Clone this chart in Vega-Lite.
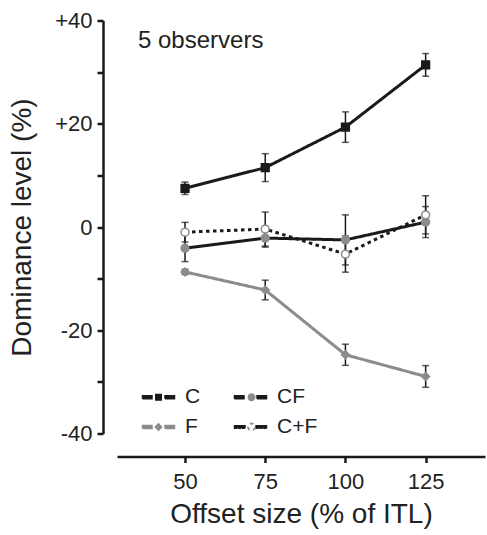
{
  "$schema": "https://vega.github.io/schema/vega-lite/v6.json",
  "autosize": {"type": "none"},
  "padding": {"left": 117, "top": 20.5, "right": 2, "bottom": 101.5},
  "width": 368,
  "height": 413,
  "background": "white",
  "config": {
    "view": {"stroke": null},
    "font": "Liberation Sans",
    "axis": {"grid": false, "labelFont": "Liberation Sans", "titleFont": "Liberation Sans", "labelColor": "#222", "titleColor": "#222", "domainColor": "#1a1a1a", "tickColor": "#1a1a1a"},
    "legend": {"orient": "none", "legendX": 31, "legendY": 366, "columns": 2, "direction": "horizontal", "columnPadding": 5, "rowPadding": 8, "gridAlign": "all", "symbolSize": 100, "symbolStrokeWidth": 1.5, "labelFontSize": 21, "labelFont": "Liberation Sans", "labelColor": "#222", "labelOffset": 16}
  },
  "title": {"text": "5 observers", "anchor": "start", "frame": "group", "orient": "top", "offset": -62, "baseline": "alphabetic", "dx": 21, "fontSize": 24, "fontWeight": "normal", "font": "Liberation Sans", "color": "#222"},
  "data": {
    "values": [
      {"offset": 50, "series": "C", "level": 7.5, "err": 1.2},
      {"offset": 75, "series": "C", "level": 11.5, "err": 2.7},
      {"offset": 100, "series": "C", "level": 19.35, "err": 2.95},
      {"offset": 125, "series": "C", "level": 31.4, "err": 2.2},
      {"offset": 50, "series": "F", "level": -8.7, "err": 0.5},
      {"offset": 75, "series": "F", "level": -12.2, "err": 1.9},
      {"offset": 100, "series": "F", "level": -24.75, "err": 2.05},
      {"offset": 125, "series": "F", "level": -28.95, "err": 2.1},
      {"offset": 50, "series": "CF", "level": -4.1, "err": 2.6},
      {"offset": 75, "series": "CF", "level": -2.15, "err": 1.75},
      {"offset": 100, "series": "CF", "level": -2.5, "err": 4.85},
      {"offset": 125, "series": "CF", "level": 0.95, "err": 3.0},
      {"offset": 50, "series": "C+F", "level": -1.0, "err": 1.9},
      {"offset": 75, "series": "C+F", "level": -0.4, "err": 3.3},
      {"offset": 100, "series": "C+F", "level": -5.25, "err": 3.5},
      {"offset": 125, "series": "C+F", "level": 2.35, "err": 3.7}
    ]
  },
  "encoding": {
    "x": {
      "field": "offset", "type": "quantitative",
      "scale": {"domain": [28.8, 143.5], "nice": false, "zero": false},
      "axis": {"offset": 23, "values": [50, 75, 100, 125], "domainWidth": 2.5, "tickWidth": 2.5, "tickSize": 6, "labelFontSize": 22, "labelPadding": 9, "title": "Offset size (% of ITL)", "titleFontSize": 28, "titleFontWeight": "normal", "titlePadding": 8}
    },
    "y": {
      "field": "level", "type": "quantitative",
      "scale": {"domain": [-40, 40], "nice": false, "zero": false},
      "axis": {"offset": 14, "values": [-40, -30, -20, -10, 0, 10, 20, 30, 40], "labelExpr": "datum.value % 20 == 0 ? (datum.value > 0 ? '+' + datum.value : '' + datum.value) : ''", "domainWidth": 2.5, "tickWidth": 2.5, "tickSize": 6, "labelFontSize": 22, "labelPadding": 5, "title": "Dominance level (%)", "titleFontSize": 28, "titleFontWeight": "normal", "titlePadding": 18}
    }
  },
  "layer": [
    {
      "mark": {"type": "line", "strokeWidth": 3},
      "encoding": {
        "color": {
          "field": "series", "type": "nominal",
          "scale": {"domain": ["C", "CF", "F", "C+F"], "range": ["#1a1a1a", "#1a1a1a", "#8c8c8c", "#1a1a1a"]},
          "legend": {
            "title": null,
            "encode": {
              "symbols": {
                "update": {
                  "shape": {"signal": "datum.value === 'C+F' ? 'M-3.2,-0.25H-2.7V0.25H-3.2Z M-2.4,-0.25H-1.9V0.25H-2.4Z M-1.6,-0.25H-1.1V0.25H-1.6Z M1.1,-0.25H1.6V0.25H1.1Z M1.9,-0.25H2.4V0.25H1.9Z M2.7,-0.25H3.2V0.25H2.7Z' : 'M-3.2,-0.3H-1.3V0.3H-3.2Z M1.3,-0.3H3.2V0.3H1.3Z'"},
                  "fill": {"signal": "datum.value === 'F' ? '#8c8c8c' : '#1a1a1a'"},
                  "stroke": {"value": "transparent"},
                  "strokeDash": {"value": [1, 0]},
                  "opacity": {"value": 1}
                }
              }
            }
          }
        },
        "strokeDash": {
          "field": "series", "type": "nominal", "sort": ["C", "CF", "F", "C+F"],
          "scale": {"range": [[1, 0], [1, 0], [1, 0], [3.5, 3.5]]},
          "legend": {
            "title": null, "labelOpacity": 0,
            "encode": {
              "symbols": {
                "update": {
                  "shape": {"signal": "'M-3.2,-0.3L-3.2,-0.3 M3.2,0.3L3.2,0.3 ' + (datum.value === 'C' ? 'M-0.7,-0.7H0.7V0.7H-0.7Z' : (datum.value === 'F' ? 'M0,-0.85L0.85,0L0,0.85L-0.85,0Z' : (datum.value === 'CF' ? 'M-0.8,0A0.8,0.8 0 1,0 0.8,0A0.8,0.8 0 1,0 -0.8,0Z' : 'M-0.7,0A0.7,0.7 0 1,0 0.7,0A0.7,0.7 0 1,0 -0.7,0Z')))"},
                  "fill": {"signal": "datum.value === 'C' ? '#1a1a1a' : (datum.value === 'C+F' ? '#ffffff' : '#8c8c8c')"},
                  "stroke": {"signal": "datum.value === 'C' ? '#1a1a1a' : '#8c8c8c'"},
                  "strokeWidth": {"signal": "datum.value === 'C+F' ? 1.8 : 0"},
                  "strokeDash": {"value": [1, 0]},
                  "opacity": {"value": 1}
                }
              }
            }
          }
        }
      }
    },
    {
      "mark": {"type": "errorbar", "ticks": {"size": 7, "thickness": 1.5, "color": "#1a1a1a"}, "rule": {"strokeWidth": 1.5, "color": "#1a1a1a"}},
      "encoding": {
        "yError": {"field": "err"},
        "detail": {"field": "series"}
      }
    },
    {
      "mark": {"type": "point", "filled": true, "strokeWidth": 1.5, "opacity": 1},
      "encoding": {
        "shape": {
          "field": "series", "type": "nominal", "sort": ["C", "CF", "F", "C+F"],
          "scale": {"range": ["square", "circle", "diamond", "circle"]},
          "legend": null
        },
        "fill": {
          "field": "series", "type": "nominal", "sort": ["C", "CF", "F", "C+F"],
          "scale": {"range": ["#1a1a1a", "#8c8c8c", "#8c8c8c", "#ffffff"]},
          "legend": null
        },
        "stroke": {
          "field": "series", "type": "nominal", "sort": ["C", "CF", "F", "C+F"],
          "scale": {"range": ["#1a1a1a", "#8c8c8c", "#8c8c8c", "#8c8c8c"]},
          "legend": null
        },
        "size": {
          "field": "series", "type": "ordinal", "sort": ["C", "CF", "F", "C+F"],
          "scale": {"range": [60, 62, 100, 52]},
          "legend": null
        }
      }
    }
  ]
}
